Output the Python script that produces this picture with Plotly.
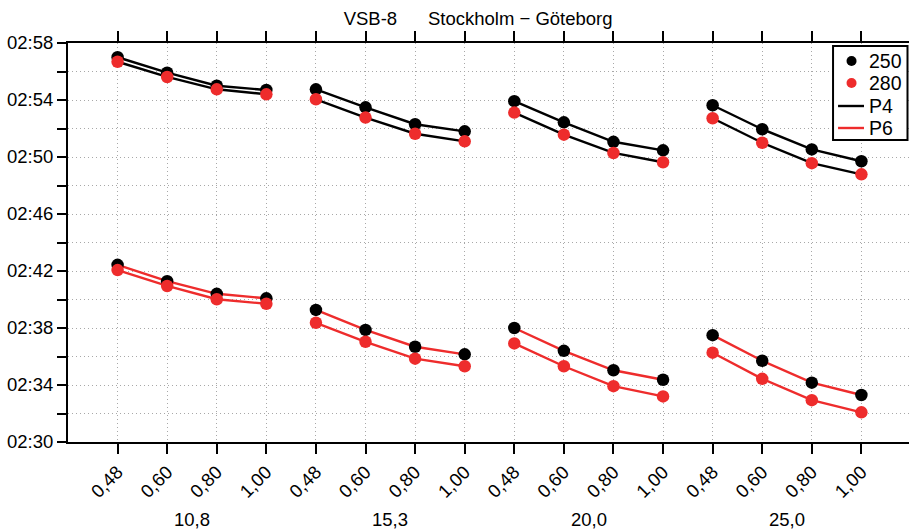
import plotly.graph_objects as go

# ---------------- data ----------------
groups = ["10,8", "15,3", "20,0", "25,0"]
ratios = ["0,48", "0,60", "0,80", "1,00"]

# P4 (upper block, black lines)
p4_250 = ["02:57:00", "02:55:55", "02:55:00", "02:54:42",
          "02:54:45", "02:53:29", "02:52:18", "02:51:48",
          "02:53:55", "02:52:26", "02:51:04", "02:50:28",
          "02:53:38", "02:51:57", "02:50:32", "02:49:42"]
p4_280 = ["02:56:41", "02:55:37", "02:54:45", "02:54:24",
          "02:54:03", "02:52:46", "02:51:38", "02:51:06",
          "02:53:07", "02:51:34", "02:50:17", "02:49:38",
          "02:52:43", "02:51:00", "02:49:34", "02:48:47"]
# P6 (lower block, red lines)
p6_250 = ["02:42:26", "02:41:17", "02:40:24", "02:40:05",
          "02:39:16", "02:37:52", "02:36:41", "02:36:09",
          "02:38:00", "02:36:24", "02:35:02", "02:34:22",
          "02:37:30", "02:35:42", "02:34:10", "02:33:18"]
p6_280 = ["02:42:04", "02:40:57", "02:40:01", "02:39:42",
          "02:38:22", "02:37:02", "02:35:51", "02:35:19",
          "02:36:55", "02:35:19", "02:33:55", "02:33:12",
          "02:36:16", "02:34:26", "02:32:56", "02:32:05"]

legend_labels = ["250", "280", "P4", "P6"]
title_text = "VSB-8" + "\u00a0" * 6 + "Stockholm \u2212 Göteborg"

# ---------------- helpers ----------------
DAY = "1970-01-01 "
BLACK = "#000000"
RED = "#EE2C2C"
FONT = "Liberation Sans, Arial, sans-serif"
FS = 18.5
LW = 2.4
GRID = "#a8a8a8"
DASH = "1px,3px"

W, H = 909, 531
ML, MR, MT, MB = 67.5, 0, 43, 89
PW, PH = W - ML - MR, H - MT - MB

n_g, n_r = len(groups), len(ratios)
xpos = list(range(n_g * n_r))


def to_dt(vals):
    return [DAY + v for v in vals]


def gapped(vals):
    xs, ys = [], []
    for g in range(n_g):
        for r in range(n_r):
            i = g * n_r + r
            xs.append(xpos[i])
            ys.append(DAY + vals[i])
        xs.append(None)
        ys.append(None)
    return xs, ys


def px(x):
    return (x - ML) / PW


def py(y):
    return (H - MB - y) / PH


fig = go.Figure()

# lines
for vals, col in [(p4_250, BLACK), (p4_280, BLACK), (p6_250, RED), (p6_280, RED)]:
    xs, ys = gapped(vals)
    fig.add_trace(go.Scatter(x=xs, y=ys, mode="lines", connectgaps=False,
                             line=dict(color=col, width=LW), showlegend=False,
                             hoverinfo="skip"))

# markers
for vals, col in [(p4_250, BLACK), (p6_250, BLACK), (p4_280, RED), (p6_280, RED)]:
    fig.add_trace(go.Scatter(x=xpos, y=to_dt(vals), mode="markers",
                             marker=dict(color=col, size=12.5, line=dict(width=0)),
                             showlegend=False))

# group labels
for g, lab in enumerate(groups):
    fig.add_annotation(x=g * n_r + (n_r - 1) / 2, xref="x", y=-0.195, yref="paper",
                       text=lab, showarrow=False, yanchor="middle",
                       font=dict(size=FS, color="black", family=FONT))

# ---------------- custom legend (box, symbols, labels) ----------------
box_l, box_t, box_r, box_b = 833, 46, 907.5, 140
fig.add_shape(type="rect", xref="paper", yref="paper",
              x0=px(box_l), x1=px(box_r), y0=py(box_b), y1=py(box_t),
              line=dict(color="black", width=2), fillcolor="white", layer="above")
row_y = [61, 83, 106, 128]
sym_cols = [BLACK, RED, BLACK, RED]
for k, (lab, col, yy) in enumerate(zip(legend_labels, sym_cols, row_y)):
    if k < 2:
        fig.add_shape(type="circle", xref="paper", yref="paper",
                      xsizemode="pixel", ysizemode="pixel",
                      xanchor=px(851.5), yanchor=py(yy),
                      x0=-5, x1=5, y0=-5, y1=5,
                      fillcolor=col, line=dict(width=0), layer="above")
    else:
        fig.add_shape(type="line", xref="paper", yref="paper",
                      x0=px(838), x1=px(864), y0=py(yy), y1=py(yy),
                      line=dict(color=col, width=LW), layer="above")
    fig.add_annotation(x=px(867), y=py(yy), xref="paper", yref="paper",
                       text=lab, showarrow=False, xanchor="left", yanchor="middle",
                       font=dict(size=19.5, color="black", family=FONT))

fig.update_layout(
    width=W, height=H,
    margin=dict(l=ML, r=MR, t=MT, b=MB, autoexpand=False),
    paper_bgcolor="white", plot_bgcolor="white",
    font=dict(family=FONT, size=FS, color="black"),
    title=dict(text=title_text, x=0.526, xanchor="center", y=0.966, yanchor="middle",
               font=dict(size=FS, family=FONT, color="black")),
    showlegend=False,
)

fig.update_xaxes(
    automargin=False,
    range=[-1, 15.96], tickmode="array", tickvals=xpos, ticktext=ratios * n_g,
    tickangle=-45, ticks="outside", ticklen=10, tickwidth=1.5, tickcolor="black",
    showline=True, linewidth=2, linecolor="black", mirror="ticks",
    showgrid=True, gridcolor=GRID, gridwidth=1, griddash=DASH,
    zeroline=False, tickfont=dict(size=FS, family=FONT),
)

fig.update_yaxes(
    automargin=False,
    type="date", range=[DAY + "02:30:00", DAY + "02:58:00"],
    tick0=DAY + "02:30:00", dtick=4 * 60 * 1000, tickformat="%H:%M",
    ticks="outside", ticklen=9, tickwidth=1.5, tickcolor="black",
    showline=True, linewidth=2, linecolor="black", mirror=False,
    showgrid=True, gridcolor=GRID, gridwidth=1, griddash=DASH,
    minor=dict(dtick=2 * 60 * 1000, ticks="outside", ticklen=9, tickwidth=1.5,
               tickcolor="black", showgrid=True, gridcolor=GRID,
               gridwidth=1, griddash=DASH),
    zeroline=False, tickfont=dict(size=FS, family=FONT),
)

fig.write_html("out.html", config={"displayModeBar": False},
               post_script="document.body.style.margin='0px';document.body.style.overflow='hidden';")
